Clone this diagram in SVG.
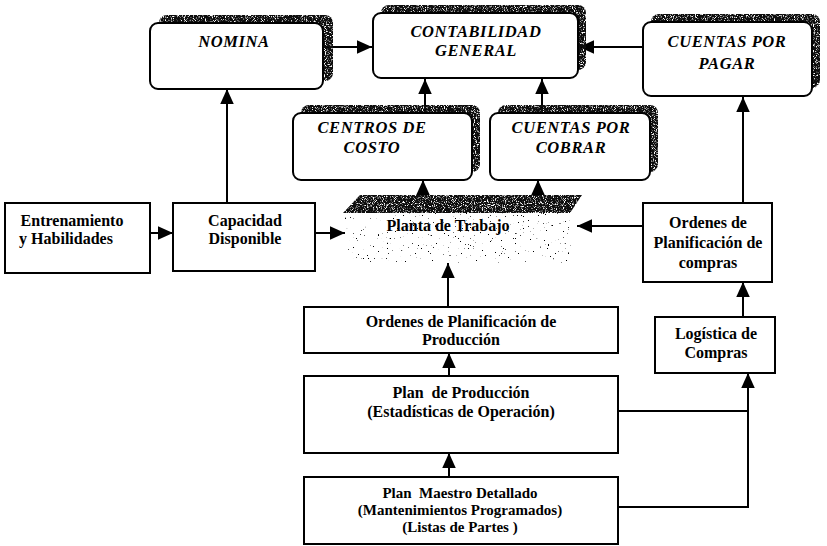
<svg xmlns="http://www.w3.org/2000/svg" width="827" height="546" viewBox="0 0 827 546">
  <defs>
    <style>
      .box { fill: #fff; stroke: #000; stroke-width: 2; }
      .rbox { fill: #fff; stroke: #000; stroke-width: 2; }
      .shadow { fill: #111; filter: url(#grain); }
      .t { font-family: "Liberation Serif", "Times New Roman", serif; font-weight: bold; font-size: 16px; text-anchor: middle; fill: #000; white-space: pre; }
      .s { font-size: 15px; }
      .ti { font-family: "Liberation Serif", "Times New Roman", serif; font-weight: bold; font-style: italic; font-size: 16.5px; letter-spacing: 0.6px; text-anchor: middle; fill: #000; }
      .ln { fill: none; stroke: #000; stroke-width: 2; }
    </style>
    <!-- speckled grain used on the box shadows and the plant slab -->
    <filter id="grain" x="0" y="0" width="1" height="1">
      <feTurbulence type="fractalNoise" baseFrequency="0.9" numOctaves="2" seed="4" result="n"/>
      <feColorMatrix in="n" type="matrix" values="0 0 0 0 0  0 0 0 0 0  0 0 0 0 0  5 0 0 0 -1.4" result="m"/>
      <feComposite in="SourceGraphic" in2="m" operator="in"/>
    </filter>
    <filter id="sparse" x="0" y="0" width="1" height="1">
      <feTurbulence type="fractalNoise" baseFrequency="0.6" numOctaves="3" seed="21" result="n"/>
      <feColorMatrix in="n" type="matrix" values="0 0 0 0 0  0 0 0 0 0  0 0 0 0 0  16 0 0 0 -11.6" result="m"/>
      <feComposite in="SourceGraphic" in2="m" operator="in"/>
    </filter>
    <marker id="ahb" viewBox="0 0 10 10" refX="10" refY="5" markerWidth="15" markerHeight="15" markerUnits="userSpaceOnUse" orient="auto">
      <path d="M0,0.5 L10,5 L0,9.5 z" fill="#000"/>
    </marker>
  </defs>

  <!-- connectors -->
  <g id="connectors">
    <path class="ln" d="M323,47 H372" marker-end="url(#ahb)"/>
    <path class="ln" d="M643,47 H579" marker-end="url(#ahb)"/>
    <path class="ln" d="M425,113 V79" marker-end="url(#ahb)"/>
    <path class="ln" d="M542,113 V79" marker-end="url(#ahb)"/>
    <path class="ln" d="M227,203 V89" marker-end="url(#ahb)"/>
    <path class="ln" d="M743,203 V97" marker-end="url(#ahb)"/>
    <path class="ln" d="M423,196 V180" marker-end="url(#ahb)"/>
    <path class="ln" d="M538,196 V180" marker-end="url(#ahb)"/>
    <path class="ln" d="M150,233 H173" marker-end="url(#ahb)"/>
    <path class="ln" d="M315,233 H345" marker-end="url(#ahb)"/>
    <path class="ln" d="M643,226 H577" marker-end="url(#ahb)"/>
    <path class="ln" d="M448,307 V263" marker-end="url(#ahb)"/>
    <path class="ln" d="M743,317 V282" marker-end="url(#ahb)"/>
    <path class="ln" d="M449,376 V353" marker-end="url(#ahb)"/>
    <path class="ln" d="M449,477 V453" marker-end="url(#ahb)"/>
    <path class="ln" d="M618,507 H748 V373" marker-end="url(#ahb)"/>
    <path class="ln" d="M618,411 H748"/>
  </g>

  <!-- accounting modules (rounded, shadowed) -->
  <g id="nomina">
    <rect class="shadow" x="159" y="15" width="174" height="66" rx="8"/>
    <rect class="rbox" x="150" y="23" width="173" height="66" rx="8"/>
    <text class="ti" x="234" y="47">NOMINA</text>
  </g>
  <g id="contabilidad">
    <rect class="shadow" x="381" y="5" width="205" height="65" rx="8"/>
    <rect class="rbox" x="373" y="13" width="205" height="65" rx="8"/>
    <text class="ti" x="476" y="37">CONTABILIDAD</text>
    <text class="ti" x="476" y="56">GENERAL</text>
  </g>
  <g id="cuentas-pagar">
    <rect class="shadow" x="651" y="14" width="169" height="74" rx="8"/>
    <rect class="rbox" x="643" y="22" width="169" height="74" rx="8"/>
    <text class="ti" x="727" y="47">CUENTAS POR</text>
    <text class="ti" x="727" y="69">PAGAR</text>
  </g>
  <g id="centros-costo">
    <rect class="shadow" x="301" y="105" width="179" height="67" rx="8"/>
    <rect class="rbox" x="293" y="113" width="179" height="67" rx="8"/>
    <text class="ti" x="372" y="133">CENTROS DE</text>
    <text class="ti" x="372" y="153">COSTO</text>
  </g>
  <g id="cuentas-cobrar">
    <rect class="shadow" x="498" y="105" width="160" height="67" rx="8"/>
    <rect class="rbox" x="490" y="113" width="160" height="67" rx="8"/>
    <text class="ti" x="571" y="133">CUENTAS POR</text>
    <text class="ti" x="571" y="153">COBRAR</text>
  </g>

  <!-- plant slab -->
  <g id="planta">
    <path class="shadow" d="M360,195 H582 L570,213 H343 Z"/>
    <rect fill="#000" filter="url(#sparse)" x="343" y="213" width="230" height="50"/>
    <text class="t" x="448" y="231" font-size="15">Planta de Trabajo</text>
  </g>

  <!-- left side -->
  <g id="entrenamiento">
    <rect class="box" x="5" y="203" width="145" height="70"/>
    <text class="t" x="72" y="226">Entrenamiento</text>
    <text class="t" x="66" y="244">y Habilidades</text>
  </g>
  <g id="capacidad">
    <rect class="box" x="173" y="203" width="142" height="68"/>
    <text class="t" x="245" y="226">Capacidad</text>
    <text class="t" x="245" y="244">Disponible</text>
  </g>

  <!-- purchasing -->
  <g id="ordenes-compras">
    <rect class="box" x="643" y="203" width="129" height="79"/>
    <text class="t" x="708" y="228">Ordenes de</text>
    <text class="t" x="708" y="248">Planificación de</text>
    <text class="t" x="708" y="268">compras</text>
  </g>
  <g id="logistica">
    <rect class="box" x="655" y="317" width="120" height="56"/>
    <text class="t" x="716" y="339">Logística de</text>
    <text class="t" x="716" y="358">Compras</text>
  </g>

  <!-- production -->
  <g id="ordenes-produccion">
    <rect class="box" x="304" y="307" width="314" height="46"/>
    <text class="t" x="461" y="327">Ordenes de Planificación de</text>
    <text class="t" x="461" y="345">Producción</text>
  </g>
  <g id="plan-produccion">
    <rect class="box" x="304" y="376" width="314" height="77"/>
    <text class="t" x="461" y="398">Plan  de Producción</text>
    <text class="t" x="461" y="417">(Estadísticas de Operación)</text>
  </g>
  <g id="plan-maestro">
    <rect class="box" x="304" y="477" width="314" height="67"/>
    <text class="t s" x="460" y="498">Plan  Maestro Detallado</text>
    <text class="t s" x="460" y="515">(Mantenimientos Programados)</text>
    <text class="t s" x="460" y="532">(Listas de Partes )</text>
  </g>
</svg>
